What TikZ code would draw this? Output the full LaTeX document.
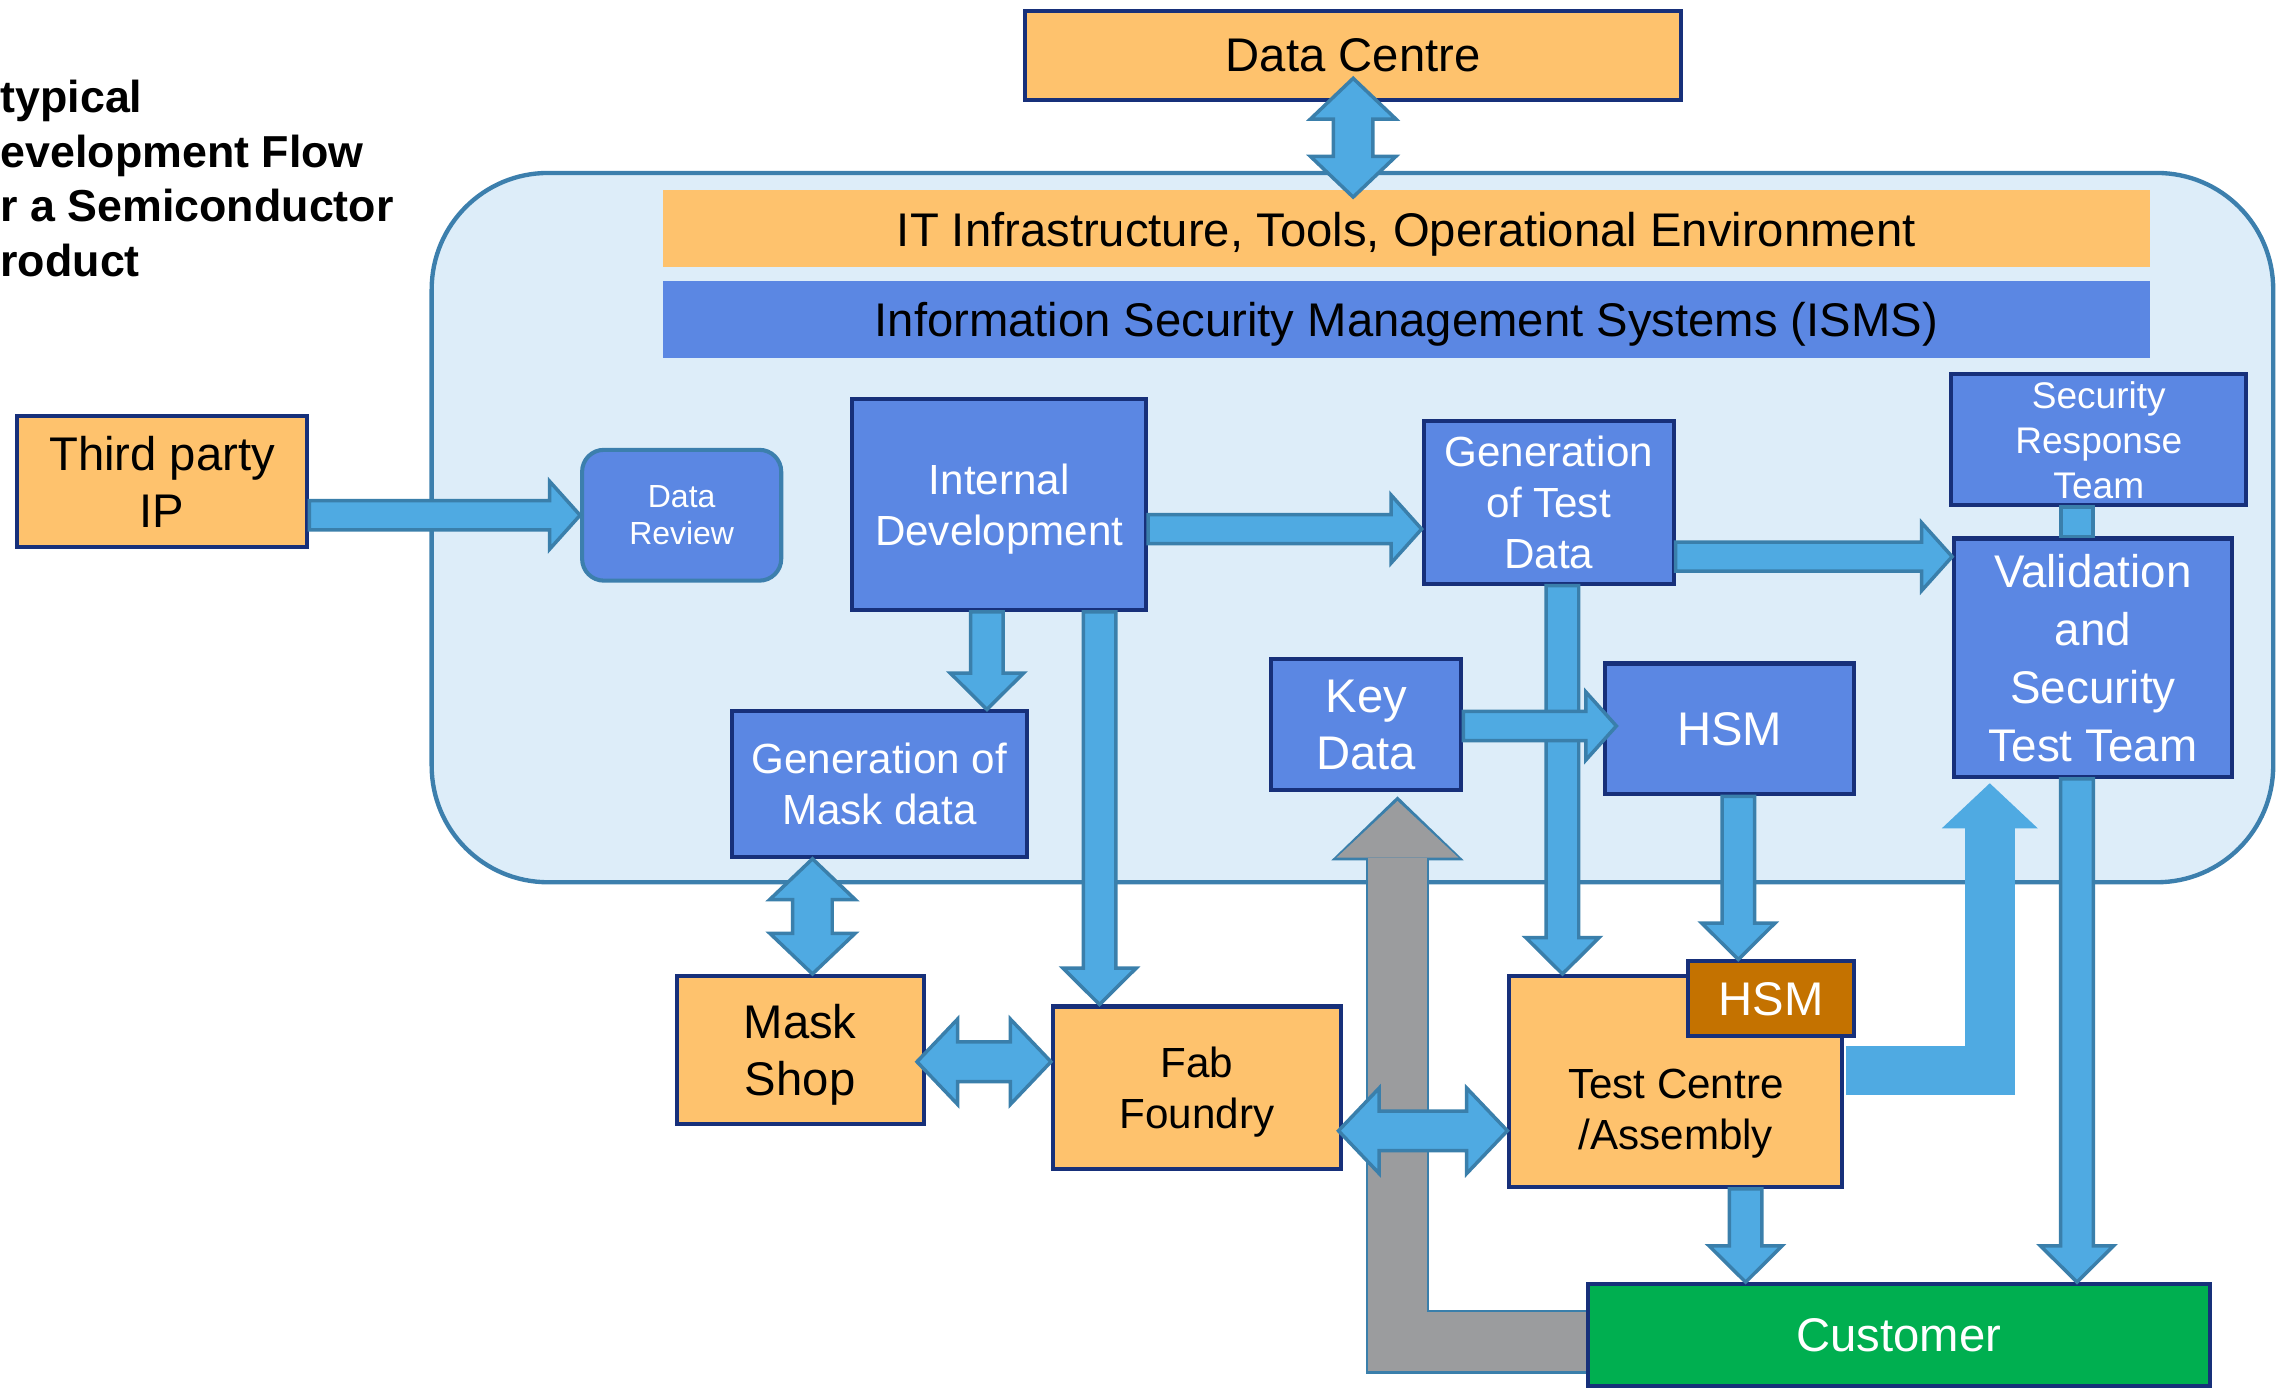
\documentclass[tikz,border=0pt]{standalone}
\usepackage{fontspec}
\setmainfont{Liberation Sans}
\usetikzlibrary{positioning, arrows.meta, calc}
\definecolor{boxorange}{RGB}{254,194,109}
\definecolor{boxblue}{RGB}{91,135,227}
\definecolor{navy}{RGB}{23,48,122}
\definecolor{arrfill}{RGB}{79,170,226}
\definecolor{arrline}{RGB}{58,127,171}
\definecolor{contfill}{RGB}{221,237,249}
\definecolor{contline}{RGB}{60,127,173}
\definecolor{hsmbrown}{RGB}{196,114,0}
\definecolor{custgreen}{RGB}{0,175,80}
\definecolor{arrgray}{RGB}{155,156,158}
\newcommand\fbig{\fontsize{16.25pt}{19.5pt}\selectfont}
\newcommand\fmid{\fontsize{14.5pt}{17.5pt}\selectfont}
\newcommand\fsmall{\fontsize{11pt}{13pt}\selectfont}
\newcommand\fsrt{\fontsize{12.75pt}{15.5pt}\selectfont}
\newcommand\fval{\fontsize{15.75pt}{20pt}\selectfont}
\newcommand\ftitle{\bfseries\fontsize{15.4pt}{18.7pt}\selectfont}
\newcommand\sarrow[3][]{%
  \path[arr,#1] let \p1=#2, \p2=#3, \n1={atan2(\y2-\y1,\x2-\x1)},
      \n2={veclen(\x2-\x1,\y2-\y1)}, \n3={\n2-\ahl} in
    [shift={(\p1)}, rotate=\n1]
    (0pt,-\asw) -- (\n3,-\asw) -- (\n3,-\ahw) -- (\n2,0pt)
    -- (\n3,\ahw) -- (\n3,\asw) -- (0pt,\asw) -- cycle;}
\newcommand\darrow[3][]{%
  \path[arr,darr,#1] let \p1=#2, \p2=#3, \n1={atan2(\y2-\y1,\x2-\x1)},
      \n2={veclen(\x2-\x1,\y2-\y1)}, \n3={\n2-\ahl} in
    [shift={(\p1)}, rotate=\n1]
    (0pt,0pt) -- (\ahl,\ahw) -- (\ahl,\asw) -- (\n3,\asw) -- (\n3,\ahw)
    -- (\n2,0pt) -- (\n3,-\ahw) -- (\n3,-\asw) -- (\ahl,-\asw)
    -- (\ahl,-\ahw) -- cycle;}

\begin{document}
\begin{tikzpicture}[x=0.5pt, y=-0.5pt,
    ageom/.code n args={3}{\def\asw{#1}\def\ahw{#2}\def\ahl{#3}},
    arr/.style={draw=arrline, fill=arrfill, line width=1.2pt, line join=miter, ageom={5.6pt}{12.6pt}{12.5pt}},
    harr/.style={ageom={5pt}{11.7pt}{10.5pt}},
    darr/.style={ageom={6.8pt}{14.7pt}{14pt}},
    box/.style={draw=navy, line width=1.4pt, inner sep=0pt, align=center, text depth=0pt},
    obox/.style={box, fill=boxorange, font=\fbig},
    bbox/.style={box, fill=boxblue, text=white, font=\fmid},
    band/.style={inner sep=0pt, minimum width=511.5pt, minimum height=26.5pt, font=\fbig, text depth=0pt},
    review/.style={draw=contline, line width=1.4pt, fill=boxblue, rounded corners=7.5pt, text=white,
      font=\fsmall, align=center, inner sep=0pt, minimum width=68.5pt, minimum height=45pt}]
  \useasboundingbox (0,0) rectangle (1568,957);
  \draw[contline, fill=contfill, line width=1.5pt, rounded corners=40pt] (297,119) rectangle (1564,607);
  \node[font=\ftitle, align=left, inner sep=0pt, anchor=north west] (ttl) at (0,55)
    {typical\\evelopment Flow\\r a Semiconductor\\roduct};

  \node[band, fill=boxorange] (it) at (967.5,157.5) {IT Infrastructure, Tools, Operational Environment};
  \node[band, fill=boxblue] (isms) at (967.5,219.5) {Information Security Management Systems (ISMS)};
  \node[obox, minimum width=225.5pt, minimum height=30.5pt] (dc) at (931,38) {Data Centre};
  \node[obox, minimum width=100pt, minimum height=45pt] (tpip) at (111.5,331.5) {Third party\\IP};
  \node[review] (review) at (469,354.5) {Data\\Review};
  \node[bbox, minimum width=101pt, minimum height=72.5pt] (idev) at (687.5,347) {Internal\\Development};
  \node[bbox, minimum width=86pt, minimum height=56pt] (gtest) at (1065.5,345.5) {Generation\\of Test\\Data};
  \node[bbox, font=\fsrt, minimum width=101.5pt, minimum height=45pt] (srt) at (1444,302.5) {Security\\Response\\Team};
  \node[bbox, font=\fval, minimum width=95.5pt, minimum height=82pt] (valid) at (1440,452.5) {Validation\\and\\Security\\Test Team};
  \node[bbox, minimum width=101.5pt, minimum height=50pt] (gmask) at (605,539.5) {Generation of\\Mask data};
  \node[bbox, font=\fbig, minimum width=65.5pt, minimum height=45pt] (keyd) at (940,498.5) {Key\\Data};
  \node[bbox, font=\fbig, minimum width=85.5pt, minimum height=45pt] (hsm) at (1190,501.5) {HSM};
  \node[obox, minimum width=85pt, minimum height=51pt] (mshop) at (550.5,722.5) {Mask\\Shop};
  \node[obox, font=\fmid, minimum width=99pt, minimum height=56pt] (fab) at (823.5,748.5) {Fab\\Foundry};
  \node[obox, minimum width=114.5pt, minimum height=72.5pt] (tcentre) at (1153,744) {};
  \node[font=\fmid, align=center] (tctext) at (1153,766) {Test Centre\\/Assembly};
  \node[box, fill=hsmbrown, text=white, font=\fbig, minimum width=57pt, minimum height=25.5pt] (hsm2) at (1218.5,687) {HSM};
  \node[box, fill=custgreen, text=white, font=\fbig, minimum width=214pt, minimum height=35pt] (cust) at (1306.5,918.5) {Customer};

  \coordinate (d2i) at ($(dc.south)+(0,-16)$);
  \coordinate (d2ib) at ($(d2i |- it.north)+(0,5)$);
  \darrow{(d2i)}{(d2ib)}
  \sarrow[harr]{(tpip.east |- review.west)}{(review.west)}
  \coordinate (i2g) at ($(idev.east)+(0,17)$);
  \sarrow[harr]{(i2g)}{(i2g -| gtest.west)}
  \coordinate (g2v) at ($(gtest.east)+(0,37.5)$);
  \sarrow[harr]{(g2v)}{(g2v -| valid.west)}
  \coordinate (s2v) at ($(srt.south)+(-15,0)$);
  \draw[arr] ($(s2v)+(-11,0)$) rectangle ($(s2v |- valid.north)+(11,0)$);
  \coordinate (i2m) at ($(idev.south)+(-8.5,0)$);
  \sarrow{(i2m)}{(i2m |- gmask.north)}
  \coordinate (i2f) at ($(idev.south)+(69,0)$);
  \sarrow{(i2f)}{(i2f |- fab.north)}
  \coordinate (g2t) at ($(gtest.south)+(9.5,0)$);
  \sarrow{(g2t)}{(g2t |- tcentre.north)}
  \coordinate (k2h) at ($(keyd.east)+(0,1)$);
  \sarrow[harr]{(k2h)}{($(k2h -| hsm.west)+(9,0)$)}
  \coordinate (h2h) at ($(hsm.south)+(6,0)$);
  \sarrow{(h2h)}{(h2h |- hsm2.north)}
  \coordinate (m2s) at ($(gmask.south)+(-46,0)$);
  \darrow{(m2s)}{(m2s |- mshop.north)}
  \coordinate (s2f) at ($(mshop.east)+(-6,8)$);
  \darrow{(s2f)}{(s2f -| fab.west)}

  \coordinate (c2k) at ($(keyd.south)+(21.5,3)$);
  \draw[line width=22pt, arrline, -{Triangle[length=22pt, width=45.5pt, line width=0pt]}]
    ($(cust.west)+(0,4.5)$) -| (c2k);
  \draw[line width=20pt, arrgray, shorten >=1.6pt, -{Triangle[length=19.5pt, width=42pt, line width=0pt]}]
    ($(cust.west)+(0,4.5)$) -| (c2k);
  \coordinate (f2t) at ($(fab.east)+(-3,29.5)$);
  \darrow{(f2t)}{(f2t -| tcentre.west)}

  \coordinate (t2v) at ($(valid.south)+(-71,3)$);
  \draw[line width=17pt, arrfill, -{Triangle[length=15.5pt, width=33pt, line width=0pt]}]
    ($(tcentre.east)+(1,-7.5)$) -| (t2v);
  \coordinate (v2c) at ($(valid.south)+(-11,0)$);
  \sarrow{(v2c)}{(v2c |- cust.north)}
  \coordinate (t2c) at ($(tcentre.south)+(48,0)$);
  \sarrow{(t2c)}{(t2c |- cust.north)}
\end{tikzpicture}
\end{document}
